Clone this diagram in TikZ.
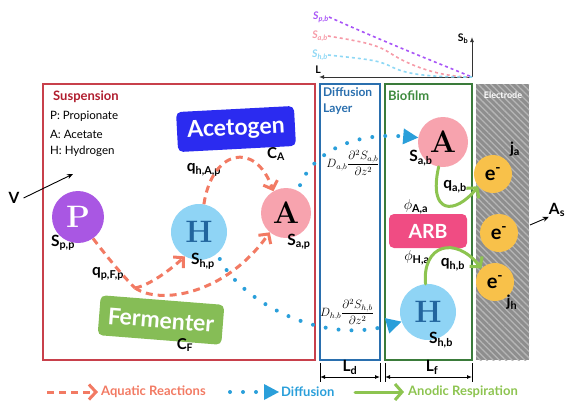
\documentclass[tikz,border=0pt]{standalone}
\usepackage{amsmath,amssymb}
\usepackage{fontspec}
\setsansfont{Lato}
\usetikzlibrary{arrows.meta,patterns.meta,positioning}

\newcommand{\fs}[1]{\fontsize{#1}{#1}\selectfont}
\newcommand{\sublab}[2]{#1\textsubscript{#2}}

\definecolor{suspred}{HTML}{C8404B}
\definecolor{susptxt}{HTML}{B01D2E}
\definecolor{diffblue}{HTML}{2A6FAE}
\definecolor{bioframe}{HTML}{3A7B3A}
\definecolor{biotxt}{HTML}{3E8A3E}
\definecolor{elgray}{HTML}{8E8E8E}
\definecolor{pcol}{HTML}{A957E3}
\definecolor{hcol}{HTML}{8FD4F5}
\definecolor{hletter}{HTML}{22659E}
\definecolor{acol}{HTML}{F7A3AE}
\definecolor{ecol}{HTML}{F8C14A}
\definecolor{acecol}{HTML}{2B2BF0}
\definecolor{fercol}{HTML}{86BD56}
\definecolor{arbcol}{HTML}{F04C83}
\definecolor{aqcol}{HTML}{F27A63}
\definecolor{difcol}{HTML}{2A9FDA}
\definecolor{ancol}{HTML}{8DC450}
\definecolor{profp}{HTML}{A855F7}
\definecolor{profa}{HTML}{F69AA7}
\definecolor{profh}{HTML}{8FD8F5}

\tikzset{
  zone/.style={draw=#1, line width=1.3pt},
  species/.style={circle, fill=#1, inner sep=0pt, font=\rmfamily\bfseries\fs{31}},
  microbe/.style={fill=#1, rounded corners=5pt, text=white, inner sep=0pt, font=\sffamily\bfseries\fs{23}},
  electron/.style={circle, fill=ecol, minimum size=38pt, inner sep=0pt, font=\sffamily\bfseries\fs{20}},
  lbl/.style={inner sep=0pt, font=\sffamily\bfseries\fs{15.5}},
  title/.style={anchor=west, inner sep=0pt, text=#1, font=\sffamily\bfseries\fs{13}},
  keytxt/.style={anchor=west, inner sep=0pt, font=\sffamily\fs{11.5}},
  legtxt/.style={anchor=west, inner sep=0pt, text=#1, font=\sffamily\bfseries\fs{13}},
  curvelbl/.style={inner sep=0pt, text=#1, font=\sffamily\bfseries\itshape\fs{10.5}},
  profile/.style={draw=#1, line width=1.6pt, dash pattern=on 3pt off 3pt},
  axis/.style={draw=black!80, line width=1pt, -{Latex[length=5pt,width=4pt]}},
  aqline/.style={draw=aqcol, line width=3pt, dash pattern=on 7pt off 5pt},
  aqarrow/.style={aqline, -{Straight Barb[length=7pt,width=15pt]}},
  diffarrow/.style={draw=difcol, line width=4pt, line cap=round, dash pattern=on 0pt off 13pt,
    -{Triangle[length=15pt,width=16pt,line width=0pt]}},
  anodic/.style={draw=ancol, line width=3pt, line cap=round, -{Straight Barb[length=7pt,width=16pt]}},
  dim/.style={draw=black, line width=0.9pt, {Latex[length=5pt,width=4pt]}-{Latex[length=5pt,width=4pt]}},
  pointer/.style={draw=black, line width=0.9pt, -{Stealth[length=6pt,width=5pt]}}
}

\begin{document}
\begin{tikzpicture}[x=1pt,y=-1pt]
\useasboundingbox (0,0) rectangle (579,408);

% concentration profile
\coordinate (O) at (472,77);
\coordinate (Ltip) at (319,77);
\coordinate (Sbtip) at (472,37);
\draw[axis] (O) -- (Ltip);
\draw[axis] (O) -- (Sbtip);
\node[inner sep=0pt, font=\sffamily\bfseries\fs{10.5}] (Lax) at (318,70) {L};
\node[inner sep=0pt, font=\sffamily\bfseries\fs{10.5}] (Sbax) at (463,39) {\sublab{S}{b}};
\node[curvelbl=profp] (Spb) at (321,17) {\sublab{S}{p,b}};
\node[curvelbl=profa] (Sab) at (320,36) {\sublab{S}{a,b}};
\node[curvelbl=profh] (Shb) at (320,55) {\sublab{S}{h,b}};
\draw[profile=profp] (Spb.east) .. controls (380,40) and (430,60) .. (O);
\draw[profile=profa] (Sab.east) .. controls (365,42) and (378,45) .. (390,53)
  .. controls (410,66) and (440,77) .. (O);
\draw[profile=profh] (Shb.east) .. controls (365,59) and (378,60) .. (390,66)
  .. controls (405,74) and (425,77) .. (O);

% regions
\fill[elgray] (476,84) rectangle (529,360);
\fill[pattern={Lines[angle=-45,distance=4.5pt,line width=1.3pt]}, pattern color=white!35!elgray]
  (476,84) rectangle (529,360);
\draw[zone=suspred] (43,84) rectangle (315,360);
\draw[zone=diffblue] (320,84) rectangle (380,360);
\draw[zone=bioframe] (385,84) rectangle (472,360);

\node[title=susptxt] (susp) at (53,97) {Suspension};
\node[keytxt] (keyP) at (50,116) {P: Propionate};
\node[keytxt] (keyA) at (50,134) {A: Acetate};
\node[keytxt] (keyH) at (50,151) {H: Hydrogen};
\node[anchor=north west, inner sep=0pt, align=left, text=diffblue,
  font=\sffamily\bfseries\fontsize{12}{16}\selectfont] (difl) at (323,87) {Diffusion\\Layer};
\node[title=biotxt] (bio) at (388,96) {Biofilm};
\node[inner sep=0pt, text=white, font=\sffamily\bfseries\fs{9}] (eltitle) at (503,95) {Electrode};

% microbes
\node[microbe=acecol, minimum width=118pt, minimum height=40pt, rotate=3] (acetogen) at (236,129) {Acetogen};
\node[microbe=fercol, minimum width=124pt, minimum height=40pt, rotate=-4.5] (fermenter) at (161,320) {Fermenter};
\node[microbe=arbcol, minimum width=78pt, minimum height=34pt, font=\sffamily\bfseries\fs{19.5}] (arb) at (428,231) {ARB};

% species
\node[species=pcol, minimum size=52pt, text=white] (Ps) at (78,217) {P};
\node[species=hcol, minimum size=56pt, text=hletter] (Hs) at (199,232) {H};
\node[species=acol, minimum size=50pt] (As) at (286,213) {A};
\node[species=acol, minimum size=50pt] (Ab) at (443,142) {A};
\node[species=hcol, minimum size=56pt, text=hletter] (Hb) at (428,312) {H};
\node[electron] (e1) at (493,174) {e\textsuperscript{-}};
\node[electron] (e2) at (499,233) {e\textsuperscript{-}};
\node[electron] (e3) at (495,282) {e\textsuperscript{-}};

% labels
\node[lbl] (SPp) at (63,243) {\sublab{S}{p,p}};
\node[lbl] (SHp) at (203,261) {\sublab{S}{h,p}};
\node[lbl] (SAp) at (299,242) {\sublab{S}{a,p}};
\node[lbl, font=\sffamily\bfseries\fs{15}] (CA) at (276,154) {\sublab{C}{A}};
\node[lbl] (qhAp) at (204,170) {\sublab{q}{h,A,p}};
\node[lbl] (qpFp) at (108,274) {\sublab{q}{p,F,p}};
\node[lbl, font=\sffamily\bfseries\fs{15}] (CF) at (185,345) {\sublab{C}{F}};
\node[lbl] (SAb) at (421,158) {\sublab{S}{a,b}};
\node[lbl] (qab) at (455,187) {\sublab{q}{a,b}};
\node[lbl] (phiAa) at (416,207) {$\phi$\textsubscript{A,a}};
\node[lbl] (phiHa) at (417,258) {$\phi$\textsubscript{H,a}};
\node[lbl] (qhb) at (453,265) {\sublab{q}{h,b}};
\node[lbl] (SHb) at (441,340) {\sublab{S}{h,b}};
\node[lbl] (ja) at (515,149) {\sublab{j}{a}};
\node[lbl] (jh) at (512,302) {\sublab{j}{h}};
\node[inner sep=0pt, font=\fs{12}] (Dab) at (353,163) {$D_{a,b}\dfrac{\partial^2 S_{a,b}}{\partial z^2}$};
\node[inner sep=0pt, font=\fs{12}] (Dhb) at (347,312) {$D_{h,b}\dfrac{\partial^2 S_{h,b}}{\partial z^2}$};

% aquatic reactions
\coordinate (fork) at (135,288);
\draw[aqline] (Ps.-55) .. controls (108,258) and (122,275) .. (fork);
\draw[aqarrow] (fork) .. controls (150,285) and (170,270) .. (Hs.-120);
\draw[aqarrow] (fork) .. controls (160,305) and (225,295) .. (As.-130);
\draw[aqarrow] (Hs.80) .. controls (212,150) and (255,140) .. (As.120);

% diffusion
\draw[diffarrow, shorten <=6pt] (As.62) .. controls (312,155) and (350,132) .. (Ab.170);
\draw[diffarrow, shorten <=6pt] (Hs.-50) .. controls (240,300) and (320,345) .. (Hb.-160);

% anodic respiration
\draw[anodic] (Ab.-100) .. controls (428,215) and (455,215) .. (e1.-140);
\draw[anodic] (Hb.95) .. controls (422,245) and (455,235) .. (e3.135);

% V and A_s
\node[lbl] (V) at (14,198) {V};
\coordinate (Vtip) at (73,174);
\draw[pointer] ([xshift=4pt]V.east) -- (Vtip);
\node[lbl] (As_lbl) at (557,210) {\sublab{A}{s}};
\coordinate (Asfoot) at (530,225);
\draw[pointer] (Asfoot) -- (As_lbl.south west);

% dimensions
\foreach \xx/\nm in {320/a,380/b,385/c,472/d}{
  \coordinate (tk\nm) at (\xx,363);
  \draw[line width=0.9pt] (tk\nm) -- ++(0,19);
}
\coordinate (Ld0) at (320,377);
\coordinate (Ld1) at (380,377);
\coordinate (Lf0) at (385,377);
\coordinate (Lf1) at (472,377);
\draw[dim] (Ld0) -- (Ld1);
\draw[dim] (Lf0) -- (Lf1);
\node[lbl] (Ld) at (350,367) {\sublab{L}{d}};
\node[lbl] (Lf) at (432,367) {\sublab{L}{f}};

% legend
\coordinate (kAq0) at (47,392);
\node[legtxt=aqcol] (kAq) at (101,392) {Aquatic Reactions};
\draw[aqarrow] (kAq0) -- ([xshift=-3pt]kAq.west);
\coordinate (kDf0) at (230,392);
\node[legtxt=difcol] (kDf) at (281,392) {Diffusion};
\draw[diffarrow] (kDf0) -- ([xshift=-2pt]kDf.west);
\coordinate (kAn0) at (355,392);
\node[legtxt=ancol] (kAn) at (408,392) {Anodic Respiration};
\draw[anodic] (kAn0) -- ([xshift=-4pt]kAn.west);
\end{tikzpicture}
\end{document}
